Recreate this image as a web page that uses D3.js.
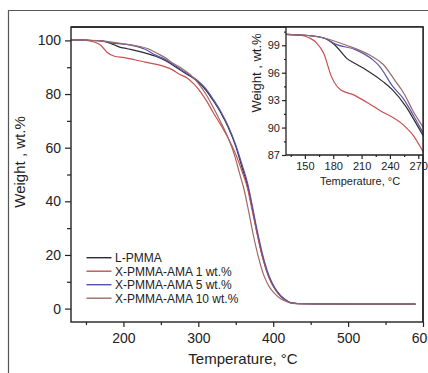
<!DOCTYPE html>
<html>
<head>
<meta charset="utf-8">
<script src="https://cdn.jsdelivr.net/npm/d3@7/dist/d3.min.js"></script>
<style>
  html, body { margin: 0; padding: 0; background: #fff; }
  svg { display: block; font-family: "Liberation Sans", Arial, sans-serif; }
</style>
</head>
<body>
<svg id="chart" width="428" height="373"></svg>
<script>
// TGA curves: [temperature °C, weight %]
const lPMMA = [
  [130,100.2],[150,100.1],[170,99.8],[183,98.9],[194,97.6],[205,96.9],[215,96.3],[233,95.0],
  [243,94.1],[257,92.3],[268,90.4],[278,88.6],[290,86.5],[300,84.5],[310,81.5],[320,77.5],
  [330,73.0],[340,67.5],[350,60.5],[358,53.0],[366,45.5],[372,37.5],[378,29.0],[386,19.0],
  [394,12.0],[402,7.5],[410,4.6],[418,2.9],[424,2.1],[435,1.8],[500,1.7],[590,1.7]
];
const amp1 = [
  [130,100.2],[145,100.1],[155,99.8],[162,99.3],[170,98.1],[178,95.6],[188,94.1],[201,93.6],
  [215,92.8],[229,91.9],[254,90.3],[265,89.1],[275,87.4],[285,86.0],[295,83.5],[305,80.0],
  [312,77.0],[320,73.0],[330,68.5],[340,63.5],[350,57.5],[358,51.5],[366,44.5],[372,36.5],
  [378,28.5],[386,18.8],[394,11.8],[402,7.4],[410,4.6],[418,2.9],[424,2.1],[435,1.8],[500,1.7],[590,1.7]
];
const amp5 = [
  [130,100.2],[150,100.1],[170,99.8],[183,99.1],[204,98.5],[222,97.4],[229,96.7],[243,94.5],
  [254,93.2],[265,91.3],[278,88.9],[290,86.8],[300,84.8],[310,82.0],[320,78.0],[330,73.5],
  [340,68.0],[350,61.0],[358,54.0],[366,46.5],[372,38.5],[378,30.0],[386,20.0],[394,12.5],
  [402,7.8],[410,4.8],[418,3.0],[424,2.1],[435,1.8],[500,1.7],[590,1.7]
];
const amp10 = [
  [130,100.2],[150,100.1],[170,99.8],[194,99.0],[219,97.9],[233,96.9],[245,95.2],[255,93.7],
  [264,91.9],[278,89.5],[290,87.0],[300,84.0],[310,80.0],[320,75.0],[330,69.5],[340,63.5],
  [348,57.5],[355,50.5],[361,44.5],[367,36.5],[373,28.0],[380,19.5],[388,12.0],[395,8.0],
  [402,5.6],[410,3.7],[418,2.6],[424,2.0],[435,1.8],[500,1.7],[590,1.7]
];

const seriesNames = ["L-PMMA", "X-PMMA-AMA 1 wt.%", "X-PMMA-AMA 5 wt.%", "X-PMMA-AMA 10 wt.%"];
const seriesData = [lPMMA, amp1, amp5, amp10];
const seriesColors = ["#2a2a38", "#c9504f", "#5656a8", "#9a6a6a"];

const mainXTicks = [200, 300, 400, 500, 600];
const mainXMinor = [150, 250, 350, 450, 550];
const mainYTicks = [0, 20, 40, 60, 80, 100];
const mainYMinor = [10, 30, 50, 70, 90];
const insetXTicks = [150, 180, 210, 240, 270];
const insetXMinor = [135, 165, 195, 225, 255];
const insetYTicks = [87, 90, 93, 96, 99];
const insetYMinor = [88.5, 91.5, 94.5, 97.5, 100.5];

const svg = d3.select("#chart");
const ink = "#222";

// outer border of the figure
svg.append("path")
  .attr("d", "M8.5,373 V10.5 H428")
  .attr("fill", "none").attr("stroke", "#555").attr("stroke-width", 1.2);

// ---------- main plot ----------
const M = { left: 71, right: 423, top: 27, bottom: 322 };
const x = d3.scaleLinear().domain([130, 600]).range([M.left, M.right]);
const y = d3.scaleLinear().domain([-5, 105]).range([M.bottom, M.top]);

function styleAxis(g, size) {
  g.select(".domain").remove();
  g.selectAll(".tick line").attr("stroke", ink).attr("stroke-width", 1.2);
  g.selectAll(".tick text").attr("fill", "#222").style("font-size", size + "px")
    .style("font-family", "'Liberation Sans', Arial, sans-serif");
}

svg.append("g").attr("transform", `translate(0,${M.bottom})`)
  .call(d3.axisBottom(x).tickValues(mainXTicks).tickSize(5).tickSizeOuter(0).tickPadding(6))
  .call(g => styleAxis(g, 14));
svg.append("g").attr("transform", `translate(0,${M.bottom})`)
  .call(d3.axisBottom(x).tickValues(mainXMinor).tickSize(3).tickFormat(""))
  .call(g => styleAxis(g, 14));
svg.append("g").attr("transform", `translate(${M.left},0)`)
  .call(d3.axisLeft(y).tickValues(mainYTicks).tickSize(6).tickSizeOuter(0).tickPadding(4))
  .call(g => styleAxis(g, 14));
svg.append("g").attr("transform", `translate(${M.left},0)`)
  .call(d3.axisLeft(y).tickValues(mainYMinor).tickSize(4).tickFormat(""))
  .call(g => styleAxis(g, 14));

const line = d3.line().x(d => x(d[0])).y(d => y(d[1])).curve(d3.curveMonotoneX);
svg.append("defs").append("clipPath").attr("id", "mainClip")
  .append("rect").attr("x", M.left).attr("y", M.top)
  .attr("width", M.right - M.left).attr("height", M.bottom - M.top);
svg.append("g").attr("clip-path", "url(#mainClip)")
  .selectAll("path").data(seriesData).join("path")
  .attr("d", line).attr("fill", "none")
  .attr("stroke", (d, i) => seriesColors[i]).attr("stroke-width", 1.2);

svg.append("rect").attr("x", M.left).attr("y", M.top)
  .attr("width", M.right - M.left).attr("height", M.bottom - M.top)
  .attr("fill", "none").attr("stroke", ink).attr("stroke-width", 1.4);

svg.append("text").attr("x", 243).attr("y", 364).attr("text-anchor", "middle")
  .style("font-size", "15px").attr("fill", "#222").text("Temperature, °C");
svg.append("text").attr("transform", "translate(25,162) rotate(-90)").attr("text-anchor", "middle")
  .style("font-size", "15px").attr("fill", "#222").text("Weight , wt.%");

// legend
const legend = svg.append("g");
seriesNames.forEach((name, i) => {
  const cy = 257.7 + i * 13.5;
  legend.append("line").attr("x1", 86.5).attr("x2", 111.5).attr("y1", cy).attr("y2", cy)
    .attr("stroke", seriesColors[i]).attr("stroke-width", 1.4);
  legend.append("text").attr("x", 115).attr("y", cy + 4.3)
    .style("font-size", "12px").attr("fill", "#222").text(name);
});

// ---------- inset ----------
const I = { left: 286, right: 423, top: 27, bottom: 155 };
const xi = d3.scaleLinear().domain([130, 275]).range([I.left, I.right]);
const yi = d3.scaleLinear().domain([87, 101]).range([I.bottom, I.top]);

svg.append("rect").attr("x", I.left).attr("y", I.top)
  .attr("width", I.right - I.left).attr("height", I.bottom - I.top).attr("fill", "#fff");

svg.append("g").attr("transform", `translate(0,${I.bottom})`)
  .call(d3.axisBottom(xi).tickValues(insetXTicks).tickSize(4).tickSizeOuter(0).tickPadding(3))
  .call(g => styleAxis(g, 11));
svg.append("g").attr("transform", `translate(0,${I.bottom})`)
  .call(d3.axisBottom(xi).tickValues(insetXMinor).tickSize(2).tickFormat(""))
  .call(g => styleAxis(g, 11));
svg.append("g").attr("transform", `translate(${I.left},0)`)
  .call(d3.axisLeft(yi).tickValues(insetYTicks).tickSize(4).tickSizeOuter(0).tickPadding(2))
  .call(g => styleAxis(g, 11));
svg.append("g").attr("transform", `translate(${I.left},0)`)
  .call(d3.axisLeft(yi).tickValues(insetYMinor).tickSize(2).tickFormat(""))
  .call(g => styleAxis(g, 11));

const lineI = d3.line().x(d => xi(d[0])).y(d => yi(d[1])).curve(d3.curveMonotoneX);
svg.select("defs").append("clipPath").attr("id", "insetClip")
  .append("rect").attr("x", I.left).attr("y", I.top)
  .attr("width", I.right - I.left).attr("height", I.bottom - I.top);
svg.append("g").attr("clip-path", "url(#insetClip)")
  .selectAll("path").data(seriesData).join("path")
  .attr("d", lineI).attr("fill", "none")
  .attr("stroke", (d, i) => seriesColors[i]).attr("stroke-width", 1.2);

svg.append("path")
  .attr("d", `M${I.left},${I.top} V${I.bottom} H${I.right}`)
  .attr("fill", "none").attr("stroke", ink).attr("stroke-width", 1.3);

svg.append("text").attr("x", 360).attr("y", 185).attr("text-anchor", "middle")
  .style("font-size", "11px").attr("fill", "#222").text("Temperature, °C");
svg.append("text").attr("transform", "translate(261,73) rotate(-90)").attr("text-anchor", "middle")
  .style("font-size", "13px").attr("fill", "#222").text("Weight , wt.%");

// redraw main frame edges shared with the inset
svg.append("path")
  .attr("d", `M${M.left},${M.top} H${M.right} V${M.bottom}`)
  .attr("fill", "none").attr("stroke", ink).attr("stroke-width", 1.4);
</script>
</body>
</html>
